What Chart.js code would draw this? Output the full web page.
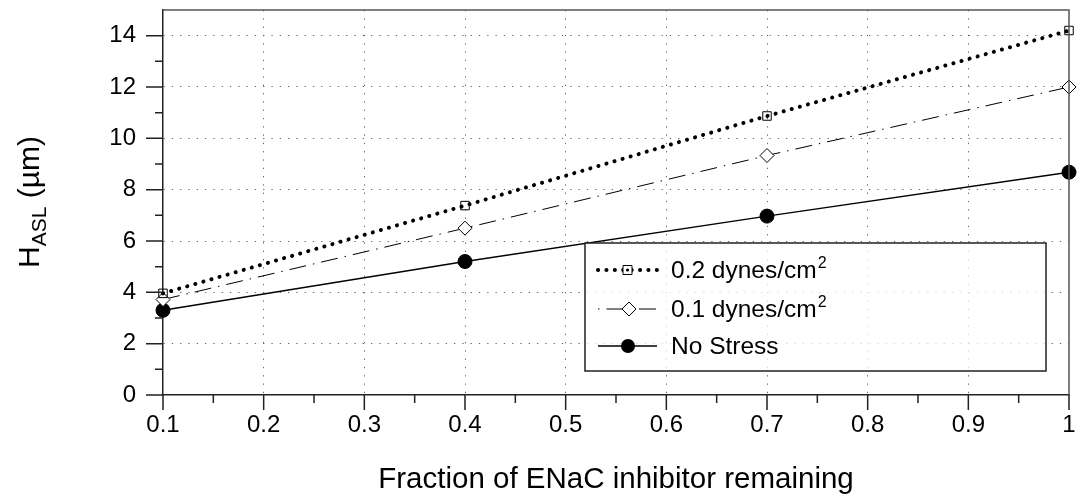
<!DOCTYPE html>
<html>
<head>
<meta charset="utf-8">
<script src="https://cdn.jsdelivr.net/npm/chart.js@4/dist/chart.umd.min.js"></script>
<style>
html,body{margin:0;padding:0;background:#fff;}
#wrap{width:1078px;height:498px;}
</style>
</head>
<body>
<div id="wrap"><canvas id="grafasl" width="1078" height="498"></canvas></div>
<script>
// datos
var fraccion = [0.1, 0.4, 0.7, 1.0];
var stress02 = [3.96, 7.38, 10.87, 14.2];
var stress01 = [3.72, 6.5, 9.33, 12.0];
var sinStress = [3.3, 5.2, 6.97, 8.68];
var etiquetas = ["0.2 dynes/cm", "0.1 dynes/cm", "No Stress"];
var superind = ["2", "2", ""];
var yTicks = [0, 2, 4, 6, 8, 10, 12, 14];
var xTicks = [0.1, 0.2, 0.3, 0.4, 0.5, 0.6, 0.7, 0.8, 0.9, 1];

var FONT = "'Liberation Sans', Arial, Helvetica, sans-serif";

function puntos(ys){
    var out = [];
    for (var i in fraccion){
        out.push({x: fraccion[i], y: ys[i]});
    }
    return out;
}

function esMayorX(v){ return Math.abs(Math.round(v*100) % 10) === 0; }
function esMayorY(v){ return Math.round(v) % 2 === 0; }

function sinPadding(s){
    s.paddingTop = 0; s.paddingBottom = 0;
    s.paddingLeft = 0; s.paddingRight = 0;
}

var estilos = [
    {dash: [0.1, 8.3], width: 4, cap: "round", point: "rect", radius: 6, fill: "rgba(0,0,0,0)"},
    {dash: [17, 7, 1.5, 7], width: 1, cap: "butt", point: "rectRot", radius: 7, fill: "#fff"},
    {dash: [], width: 1.4, cap: "butt", point: "circle", radius: 7, fill: "#000"}
];

var marco = {
    id: "marco",
    afterDraw: function(chart){
        var ctx = chart.ctx, a = chart.chartArea;
        var xs = chart.scales.x, ys = chart.scales.y;
        ctx.save();
        // top & right frame
        ctx.strokeStyle = "#555";
        ctx.lineWidth = 1.5;
        ctx.beginPath();
        ctx.moveTo(a.left, a.top);
        ctx.lineTo(a.right, a.top);
        ctx.lineTo(a.right, a.bottom);
        ctx.stroke();
        // tick marks
        ctx.strokeStyle = "#222";
        ctx.lineWidth = 1.5;
        ctx.beginPath();
        ys.ticks.forEach(function(t){
            if (t.value > 14.5) return;
            var py = ys.getPixelForValue(t.value);
            var len = esMayorY(t.value) ? 17 : 8;
            ctx.moveTo(a.left - len, py);
            ctx.lineTo(a.left, py);
        });
        xs.ticks.forEach(function(t){
            var px = xs.getPixelForValue(t.value);
            var len = esMayorX(t.value) ? 15 : 8;
            ctx.moveTo(px, a.bottom);
            ctx.lineTo(px, a.bottom + len);
        });
        ctx.stroke();

        // y title  H_ASL (µm)
        ctx.translate(28, 202);
        ctx.rotate(-Math.PI/2);
        ctx.fillStyle = "#000";
        ctx.textBaseline = "alphabetic";
        ctx.font = "30px " + FONT;
        var wH = ctx.measureText("H").width;
        var wP = ctx.measureText(" (\u00b5m)").width;
        ctx.font = "21px " + FONT;
        var wS = ctx.measureText("ASL").width;
        var x0 = -(wH + wS + wP)/2;
        ctx.font = "30px " + FONT;
        ctx.fillText("H", x0, 11);
        ctx.font = "21px " + FONT;
        ctx.fillText("ASL", x0 + wH, 18);
        ctx.font = "30px " + FONT;
        ctx.fillText(" (\u00b5m)", x0 + wH + wS, 11);
        ctx.restore();

        // x title
        ctx.save();
        ctx.fillStyle = "#000";
        ctx.font = "29.5px " + FONT;
        ctx.textAlign = "center";
        ctx.textBaseline = "alphabetic";
        ctx.fillText("Fraction of ENaC inhibitor remaining", (a.left + a.right)/2, 488);
        ctx.restore();

        // legend
        ctx.save();
        var bx = 585, by = 243, bw = 461, bh = 128;
        ctx.fillStyle = "rgba(255,255,255,0.75)";
        ctx.fillRect(bx, by, bw, bh);
        ctx.strokeStyle = "#222";
        ctx.lineWidth = 1.5;
        ctx.strokeRect(bx, by, bw, bh);
        var filas = [270, 309, 346];
        for (var i = 0; i < etiquetas.length; i++){
            var e = estilos[i], fy = filas[i];
            ctx.strokeStyle = "#000";
            ctx.lineWidth = e.width;
            ctx.lineCap = e.cap;
            ctx.setLineDash(e.dash);
            ctx.lineDashOffset = i === 1 ? 24 : 0;
            ctx.beginPath();
            ctx.moveTo(598, fy);
            ctx.lineTo(657, fy);
            ctx.stroke();
            ctx.setLineDash([]);
            ctx.lineCap = "butt";
            ctx.lineWidth = 1;
            ctx.beginPath();
            if (e.point === "rect"){
                ctx.fillStyle = "#fff";
                ctx.rect(623, fy - 4.5, 9, 9);
                ctx.fill();
                ctx.stroke();
                ctx.fillStyle = "#000";
                ctx.beginPath();
                ctx.arc(627.5, fy, 1.6, 0, Math.PI*2);
                ctx.fill();
            } else if (e.point === "rectRot"){
                ctx.fillStyle = "#fff";
                ctx.moveTo(629 - 7, fy);
                ctx.lineTo(629, fy - 7);
                ctx.lineTo(629 + 7, fy);
                ctx.lineTo(629, fy + 7);
                ctx.closePath();
                ctx.fill();
                ctx.stroke();
            } else {
                ctx.fillStyle = "#000";
                ctx.arc(628, fy, 7, 0, Math.PI*2);
                ctx.fill();
            }
            ctx.fillStyle = "#000";
            ctx.textBaseline = "alphabetic";
            ctx.font = "24.5px " + FONT;
            ctx.fillText(etiquetas[i], 671, fy + 8);
            if (superind[i]){
                var w = ctx.measureText(etiquetas[i]).width;
                ctx.font = "16px " + FONT;
                ctx.fillText(superind[i], 671 + w + 1, fy - 2);
            }
        }
        ctx.restore();
    }
};

var datasets = [];
var series = [stress02, stress01, sinStress];
for (var k = 0; k < series.length; k++){
    var st = estilos[k];
    datasets.push({
        label: etiquetas[k] + superind[k],
        data: puntos(series[k]),
        borderColor: "#000",
        borderWidth: st.width,
        borderDash: st.dash,
        borderCapStyle: st.cap,
        pointStyle: st.point,
        pointRadius: st.radius,
        pointBorderWidth: 1,
        pointBackgroundColor: st.fill,
        pointBorderColor: "#000",
        tension: 0,
        clip: false,
        fill: false
    });
}

var isgraf = document.getElementById("grafasl");
var lineChart = new Chart(isgraf, {
    type: "line",
    data: { datasets: datasets },
    plugins: [marco],
    options: {
        responsive: false,
        animation: false,
        devicePixelRatio: 1,
        layout: { padding: { left: 0, right: 9, top: 10, bottom: 0 } },
        plugins: { legend: { display: false }, tooltip: { enabled: false } },
        scales: {
            x: {
                type: "linear",
                min: 0.1,
                max: 1,
                afterFit: function(s){ s.height = 103; sinPadding(s); },
                afterBuildTicks: function(s){
                    var t = [];
                    for (var i = 0; i <= 18; i++) t.push({value: Math.round((0.1 + i*0.05)*100)/100});
                    s.ticks = t;
                },
                ticks: {
                    autoSkip: false,
                    maxRotation: 0,
                    padding: 16,
                    color: "#000",
                    font: { family: FONT, size: 24 },
                    callback: function(v){
                        if (!esMayorX(v)) return "";
                        return xTicks.indexOf(Math.round(v*10)/10) >= 0 ? String(Math.round(v*10)/10) : "";
                    }
                },
                grid: {
                    drawTicks: false,
                    lineWidth: 1,
                    color: function(c){
                        var v = c.tick ? c.tick.value : 0;
                        return (esMayorX(v) && v > 0.15 && v < 0.95) ? "#666" : "rgba(0,0,0,0)";
                    }
                },
                border: { display: true, color: "#222", width: 1.5, dash: [1.3, 7] }
            },
            y: {
                min: 0,
                max: 15,
                afterFit: function(s){ s.width = 163; sinPadding(s); },
                ticks: {
                    stepSize: 1,
                    autoSkip: false,
                    padding: 27,
                    color: "#000",
                    font: { family: FONT, size: 24 },
                    callback: function(v){ return yTicks.indexOf(v) >= 0 ? String(v) : ""; }
                },
                grid: {
                    drawTicks: false,
                    lineWidth: 1,
                    color: function(c){
                        var v = c.tick ? c.tick.value : 0;
                        return (yTicks.indexOf(v) >= 0 && v > 0) ? "#666" : "rgba(0,0,0,0)";
                    }
                },
                border: { display: true, color: "#222", width: 1.5, dash: [1.3, 7] }
            }
        }
    }
});
</script>
</body>
</html>
